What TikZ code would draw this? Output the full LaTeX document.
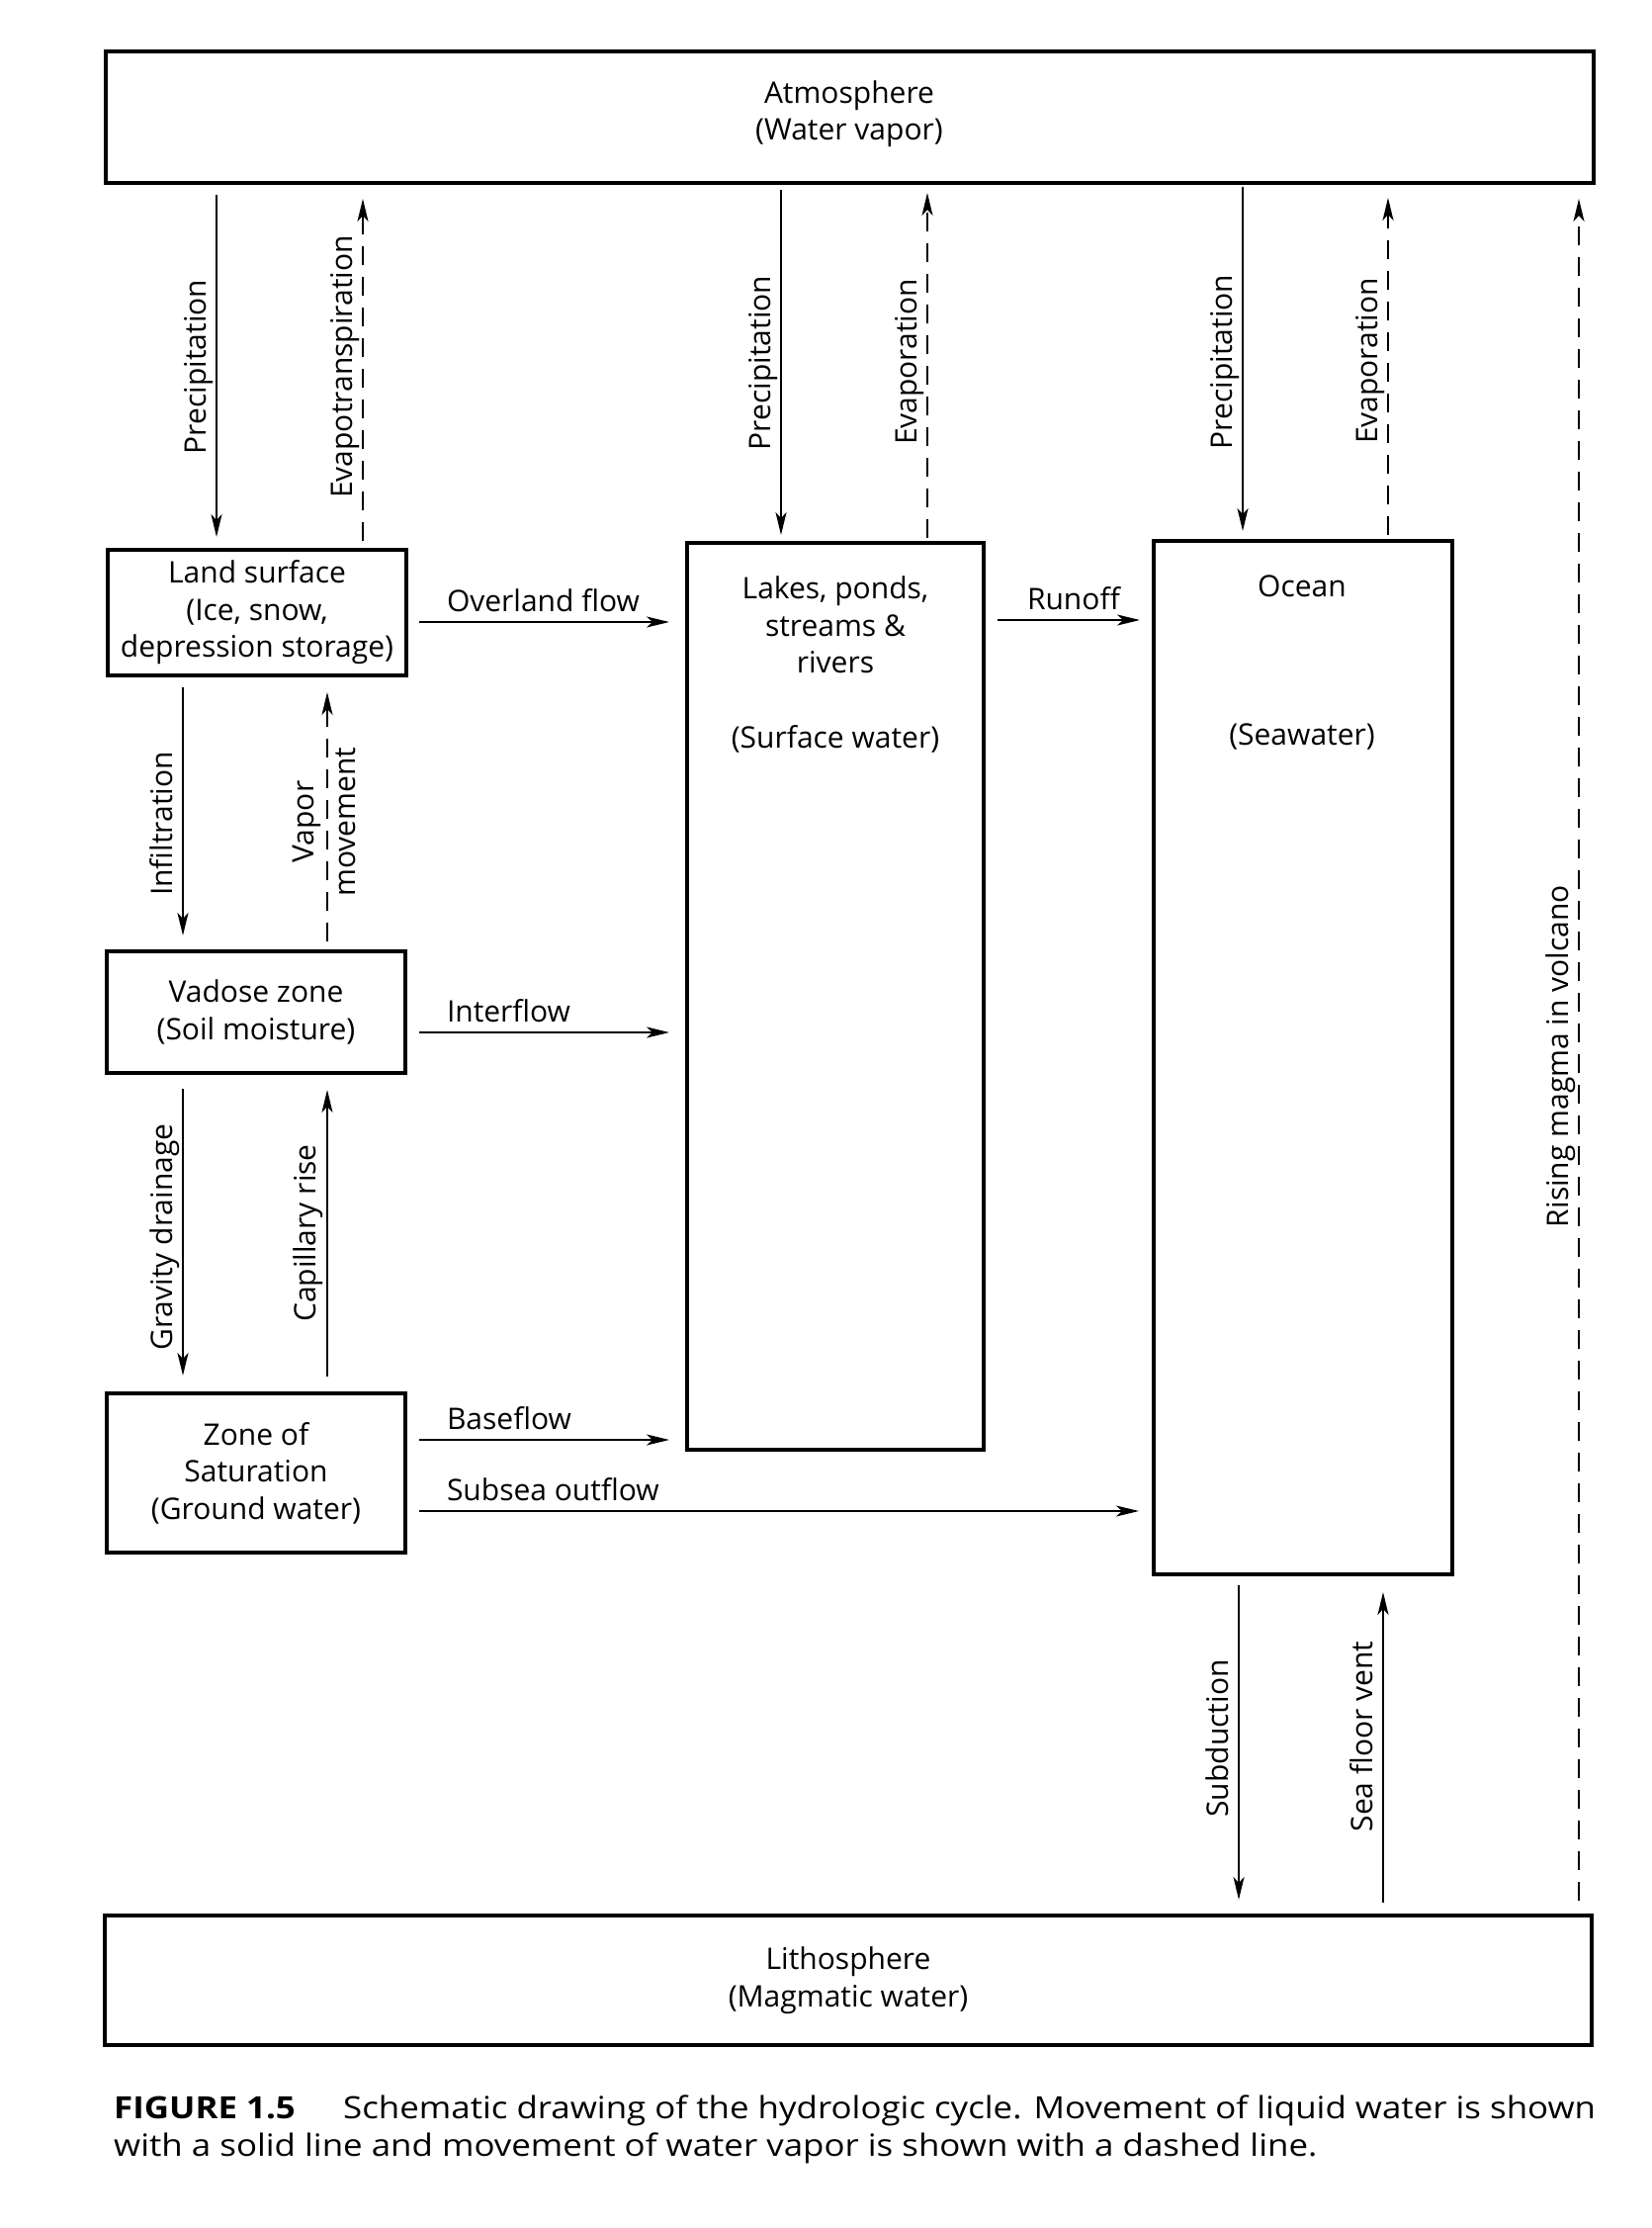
\documentclass[tikz,border=0pt]{standalone}
\usepackage{fontspec}
\setmainfont{Open Sans}
\newfontfamily\capfam[FakeStretch=1.125]{Open Sans}
\usetikzlibrary{arrows.meta,calc}
\newcommand{\lblfont}{\fontsize{30}{37.5}\selectfont}
\newcommand{\capfont}{\capfam\fontsize{31}{37}\selectfont}
\begin{document}
\begin{tikzpicture}[x=1pt,y=-1pt,
  box/.style={draw,line width=4pt,inner sep=0pt,outer sep=0pt,align=center,font=\lblfont},
  flow/.style={line width=2.2pt,-{Stealth[length=23pt,width=11pt,inset=6pt]}},
  vap/.style={flow,dash pattern=on 19pt off 12pt},
  lab/.style={font=\lblfont,inner sep=0pt,outer sep=0pt},
  vlab/.style={lab,rotate=90,anchor=base},
  hlab/.style={lab,anchor=base west},
  capt/.style={font=\capfont,inner sep=0pt,anchor=base west}
]
\useasboundingbox (0,0) rectangle (1670,2253);
\fill[white] (0,0) rectangle (1670,2253);

% boxes
\node[box,minimum width=1505pt,minimum height=133pt] (atm) at (859.5,118.5) {};
\node[lab,align=center] (atmt) at (859,115) {Atmosphere\\(Water vapor)};
\node[box,minimum width=302pt,minimum height=127pt] (land) at (260,619.5) {Land surface\\(Ice, snow,\\depression storage)};
\node[box,minimum width=300pt,minimum height=917pt] (lakes) at (845,1007.5) {};
\node[box,minimum width=302pt,minimum height=1045pt] (ocean) at (1318,1069.5) {};
\node[box,minimum width=302pt,minimum height=123pt] (vadose) at (259,1023.5) {Vadose zone\\(Soil moisture)};
\node[box,minimum width=302pt,minimum height=161pt] (zone) at (259,1489.5) {Zone of\\Saturation\\(Ground water)};
\node[box,minimum width=1504pt,minimum height=131pt] (litho) at (858,2002.5) {Lithosphere\\(Magmatic water)};

% texts inside tall boxes
\node[lab,align=center] (lakest) at (845,632) {Lakes, ponds,\\streams \&\\rivers};
\node[lab,anchor=base] (lakessw) at (845,756) {(Surface water)};
\node[lab,anchor=base] (oceant) at (1317,603) {Ocean};
\node[lab,anchor=base] (oceansw) at (1317,753) {(Seawater)};

% x positions of vertical connectors
\coordinate (xp1) at (219,0);
\coordinate (xe1) at (367,0);
\coordinate (xp2) at (790,0);
\coordinate (xe2) at (938,0);
\coordinate (xp3) at (1257,0);
\coordinate (xe3) at (1404,0);
\coordinate (xrm) at (1597,0);
\coordinate (xin) at (185,0);
\coordinate (xvp) at (331,0);
\coordinate (xsb) at (1253,0);
\coordinate (xsv) at (1399,0);
% y positions of horizontal connectors
\coordinate (yov) at (0,629);
\coordinate (yro) at (0,627);
\coordinate (yif) at (0,1044);
\coordinate (ybf) at (0,1456);
\coordinate (yso) at (0,1528);

% atmosphere exchanges
\draw[flow,shorten <=12pt,shorten >=13pt] (atm.south -| xp1) -- (land.north -| xp1);
\draw[vap,shorten <=9pt,shorten >=16pt] (land.north -| xe1) -- (atm.south -| xe1);
\draw[flow,shorten <=7pt,shorten >=8pt] (atm.south -| xp2) -- (lakes.north -| xp2);
\draw[vap,shorten <=5pt,shorten >=10pt] (lakes.north -| xe2) -- (atm.south -| xe2);
\draw[flow,shorten <=4pt,shorten >=10pt] (atm.south -| xp3) -- (ocean.north -| xp3);
\draw[vap,shorten <=6pt,shorten >=15pt] (ocean.north -| xe3) -- (atm.south -| xe3);
\draw[vap,shorten <=15pt,shorten >=16pt] (litho.north -| xrm) -- (atm.south -| xrm);

% subsurface
\draw[flow,shorten <=12pt,shorten >=16pt] (land.south -| xin) -- (vadose.north -| xin);
\draw[vap,shorten <=10pt,shorten >=17pt] (vadose.north -| xvp) -- (land.south -| xvp);
\draw[flow,shorten <=16pt,shorten >=18pt] (vadose.south -| xin) -- (zone.north -| xin);
\draw[flow,shorten <=17pt,shorten >=17pt] (zone.north -| xvp) -- (vadose.south -| xvp);

% lateral flows
\draw[flow,shorten <=13pt,shorten >=18pt] (land.east |- yov) -- (lakes.west |- yov);
\draw[flow,shorten <=14pt,shorten >=14pt] (lakes.east |- yro) -- (ocean.west |- yro);
\draw[flow,shorten <=14pt,shorten >=18pt] (vadose.east |- yif) -- (lakes.west |- yif);
\draw[flow,shorten <=14pt,shorten >=18pt] (zone.east |- ybf) -- (lakes.west |- ybf);
\draw[flow,shorten <=14pt,shorten >=15pt] (zone.east |- yso) -- (ocean.west |- yso);

% ocean - lithosphere
\draw[flow,shorten <=11pt,shorten >=16pt] (ocean.south -| xsb) -- (litho.north -| xsb);
\draw[flow,shorten <=13pt,shorten >=18pt] (litho.north -| xsv) -- (ocean.south -| xsv);

% vertical labels
\node[vlab] (lp1) at (208,371) {Precipitation};
\node[vlab] (le1) at (356,371) {Evapotranspiration};
\node[vlab] (lp2) at (779,367) {Precipitation};
\node[vlab] (le2) at (927,366) {Evaporation};
\node[vlab] (lp3) at (1246,366) {Precipitation};
\node[vlab] (le3) at (1393,365) {Evaporation};
\node[vlab] (lin) at (174,833) {Infiltration};
\node[vlab] (lvp1) at (317,831) {Vapor};
\node[vlab] (lvp2) at (359,831) {movement};
\node[vlab] (lgd) at (174,1251) {Gravity drainage};
\node[vlab] (lcr) at (319,1247) {Capillary rise};
\node[vlab] (lsb) at (1242,1758) {Subduction};
\node[vlab] (lsv) at (1388,1756) {Sea floor vent};
\node[vlab] (lrm) at (1586,1068) {Rising magma in volcano};

% horizontal labels
\node[hlab] (lov) at (452,618) {Overland flow};
\node[hlab] (lro) at (1039,616) {Runoff};
\node[hlab] (lif) at (452,1033) {Interflow};
\node[hlab] (lbf) at (452,1445) {Baseflow};
\node[hlab] (lso) at (452,1517) {Subsea outflow};

% caption
\node[capt] (cap0) at (115,2142) {\bfseries FIGURE 1.5};
\node[capt] (cap1) at (347,2142) {Schematic drawing of the hydrologic cycle. Movement of liquid water is shown};
\node[capt] (cap2) at (115,2180) {with a solid line and movement of water vapor is shown with a dashed line.};
\end{tikzpicture}
\end{document}
